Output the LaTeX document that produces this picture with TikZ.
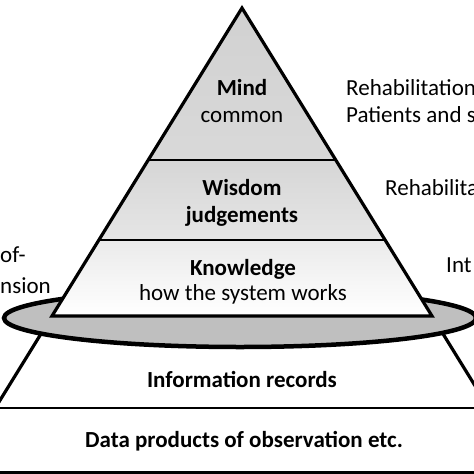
\documentclass[tikz,border=0pt]{standalone}
\usepackage{fontspec}
\setmainfont{Carlito}
\usetikzlibrary{calc}
\begin{document}
\begin{tikzpicture}[x=1pt,y=-1pt,
                    side/.style  = {line width=3.2pt,line join=miter},
                    cut/.style   = {line width=2.2pt},
                    txt/.style   = {font=\fontsize{23}{27}\selectfont,align=center,anchor=base,inner sep=0pt},
                    note/.style  = {font=\fontsize{23}{27}\selectfont,align=left,inner sep=0pt}]
                    \useasboundingbox (0,0) rectangle (474,474);
                    \clip (0,0) rectangle (474,474);

                    \coordinate (apex) at (242,8);
                    \coordinate (bl)   at (52,316);
                    \coordinate (br)   at (432,316);
                    \coordinate (ml)   at ($(apex)!0.4935!(bl)$);
                    \coordinate (mr)   at ($(apex)!0.4935!(br)$);
                    \coordinate (kl)   at ($(apex)!0.7532!(bl)$);
                    \coordinate (kr)   at ($(apex)!0.7532!(br)$);
                    \coordinate (fl)   at ($(apex)!1.3!(bl)$);
                    \coordinate (fr)   at ($(apex)!1.3!(br)$);

                    \draw[side] (bl) -- (fl);
                    \draw[side] (br) -- (fr);
                    \draw[fill=black!25,line width=4.5pt] (240,318) ellipse [x radius=236, y radius=29];

                    \path[top color=black!18,bottom color=black!15] (apex) -- (ml) -- (mr) -- cycle;
                    \path[top color=black!16,bottom color=black!10] (ml) -- (kl) -- (kr) -- (mr) -- cycle;
                    \path[top color=black!8,bottom color=white]     (kl) -- (bl) -- (br) -- (kr) -- cycle;
                    \draw[cut] (ml) -- (mr);
                    \draw[cut] (kl) -- (kr);
                    \draw[side] (apex) -- (bl) -- (br) -- cycle;

                    \draw[line width=1.2pt] (0,408) -- (474,408);
                    \draw[line width=3pt]   (0,472.5) -- (474,472.5);

                    \node[txt] (mind)  at (242,122) {\textbf{Mind}\\common};
                    \node[txt] (wisd)  at (242,222) {\textbf{Wisdom}\\\textbf{judgements}};
                    \node[txt] (know)  at (243,300) {\textbf{Knowledge}\\[-2pt]how the system works};
                    \node[txt] (info)  at (242,387) {\textbf{Information records}};
                    \node[txt] (data)  at (244,447) {\textbf{Data products of observation etc.}};

                    \node[note,anchor=base west] (rehab)  at (346,122) {Rehabilitation\\Patients and s};
                    \node[note,anchor=base west] (rehab2) at (385,195) {Rehabilita};
                    \node[note,anchor=base west] (inte)   at (446,272) {Int};
                    \node[note,anchor=base west] (ofl)    at (0,262)   {of-};
                    \node[note,anchor=base west] (sion)   at (0,293)   {nsion};
\end{tikzpicture}
\end{document}
